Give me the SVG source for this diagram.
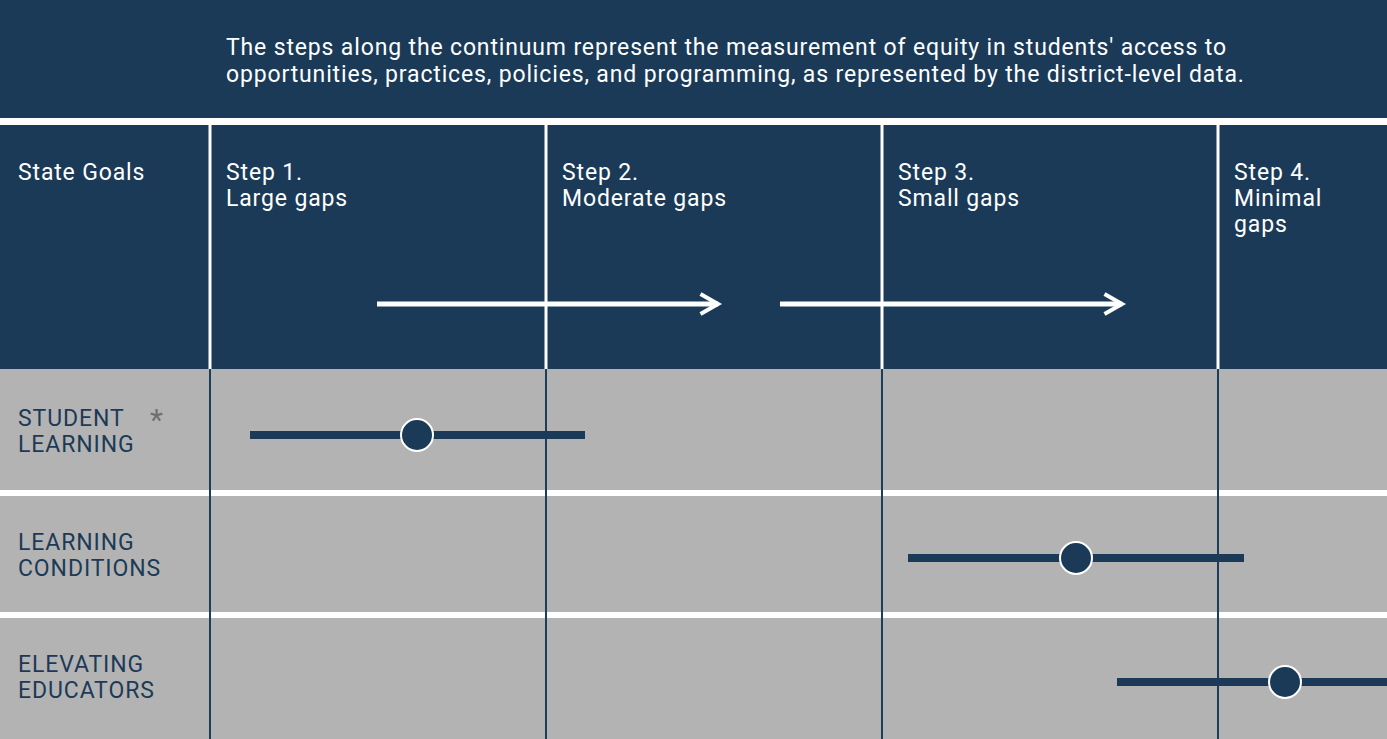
<svg xmlns="http://www.w3.org/2000/svg" width="1387" height="739" viewBox="0 0 1387 739">
<style>
.hd{font-family:Roboto,"Liberation Sans",sans-serif;font-size:23px;letter-spacing:0.85px;fill:#ffffff}
.rl{font-family:Roboto,"Liberation Sans",sans-serif;font-size:23px;fill:#1c3a57;letter-spacing:0.9px}
.bar{stroke:#1a3a57;stroke-width:8}
.dot{fill:#1a3a57;stroke:#ffffff;stroke-width:2}
.vw{stroke:#ffffff;stroke-width:3}
.vd{stroke:#1f3d5a;stroke-width:2}
.arr{stroke:#ffffff;stroke-width:5;fill:none}
</style>
<defs>
<marker id="chev" viewBox="0 0 10 10" refX="8" refY="5" markerWidth="5" markerHeight="5" orient="auto" markerUnits="strokeWidth">
<path d="M1,1 L8,5 L1,9" fill="none" stroke="#ffffff" stroke-width="1.6"/>
</marker>
</defs>
<rect x="0" y="0" width="1387" height="739" fill="#ffffff"/>
<g id="banner">
<rect x="0" y="0" width="1387" height="118" fill="#1a3a57"/>
<text class="hd" x="226" y="55">The steps along the continuum represent the measurement of equity in students' access to</text>
<text class="hd" x="226" y="82">opportunities, practices, policies, and programming, as represented by the district-level data.</text>
</g>
<g id="header">
<rect x="0" y="125" width="1387" height="244" fill="#1a3a57"/>
<text class="hd" x="18" y="180">State Goals</text>
<text class="hd" x="226" y="180">Step 1.</text>
<text class="hd" x="226" y="206">Large gaps</text>
<text class="hd" x="562" y="180">Step 2.</text>
<text class="hd" x="562" y="206">Moderate gaps</text>
<text class="hd" x="898" y="180">Step 3.</text>
<text class="hd" x="898" y="206">Small gaps</text>
<text class="hd" x="1234" y="180">Step 4.</text>
<text class="hd" x="1234" y="206">Minimal</text>
<text class="hd" x="1234" y="232">gaps</text>
</g>
<g id="rows">
<rect x="0" y="369" width="1387" height="121" fill="#b3b3b3"/>
<rect x="0" y="496" width="1387" height="116" fill="#b3b3b3"/>
<rect x="0" y="618" width="1387" height="121" fill="#b3b3b3"/>
</g>
<g id="gridlines">
<line class="vw" x1="210" y1="125" x2="210" y2="369"/>
<line class="vw" x1="546" y1="125" x2="546" y2="369"/>
<line class="vw" x1="882" y1="125" x2="882" y2="369"/>
<line class="vw" x1="1218" y1="125" x2="1218" y2="369"/>
<line class="vd" x1="210" y1="369" x2="210" y2="739"/>
<line class="vd" x1="546" y1="369" x2="546" y2="739"/>
<line class="vd" x1="882" y1="369" x2="882" y2="739"/>
<line class="vd" x1="1218" y1="369" x2="1218" y2="739"/>
</g>
<g id="connectors">
<line class="arr" x1="377" y1="304" x2="718" y2="304" marker-end="url(#chev)"/>
<line class="arr" x1="780" y1="304" x2="1122" y2="304" marker-end="url(#chev)"/>
</g>
<g id="student-learning">
<text class="rl" x="18" y="426">STUDENT</text>
<text class="rl" x="18" y="452">LEARNING</text>
<text x="150" y="430" font-family="Roboto,'Liberation Sans',sans-serif" font-size="30" fill="#6f6f6f">*</text>
<line class="bar" x1="250" y1="435" x2="585" y2="435"/>
<circle class="dot" cx="417" cy="435" r="16"/>
</g>
<g id="learning-conditions">
<text class="rl" x="18" y="550">LEARNING</text>
<text class="rl" x="18" y="576">CONDITIONS</text>
<line class="bar" x1="908" y1="558" x2="1244" y2="558"/>
<circle class="dot" cx="1076" cy="558" r="16"/>
</g>
<g id="elevating-educators">
<text class="rl" x="18" y="672">ELEVATING</text>
<text class="rl" x="18" y="698">EDUCATORS</text>
<line class="bar" x1="1117" y1="682" x2="1387" y2="682"/>
<circle class="dot" cx="1285" cy="682" r="16"/>
</g>
</svg>
